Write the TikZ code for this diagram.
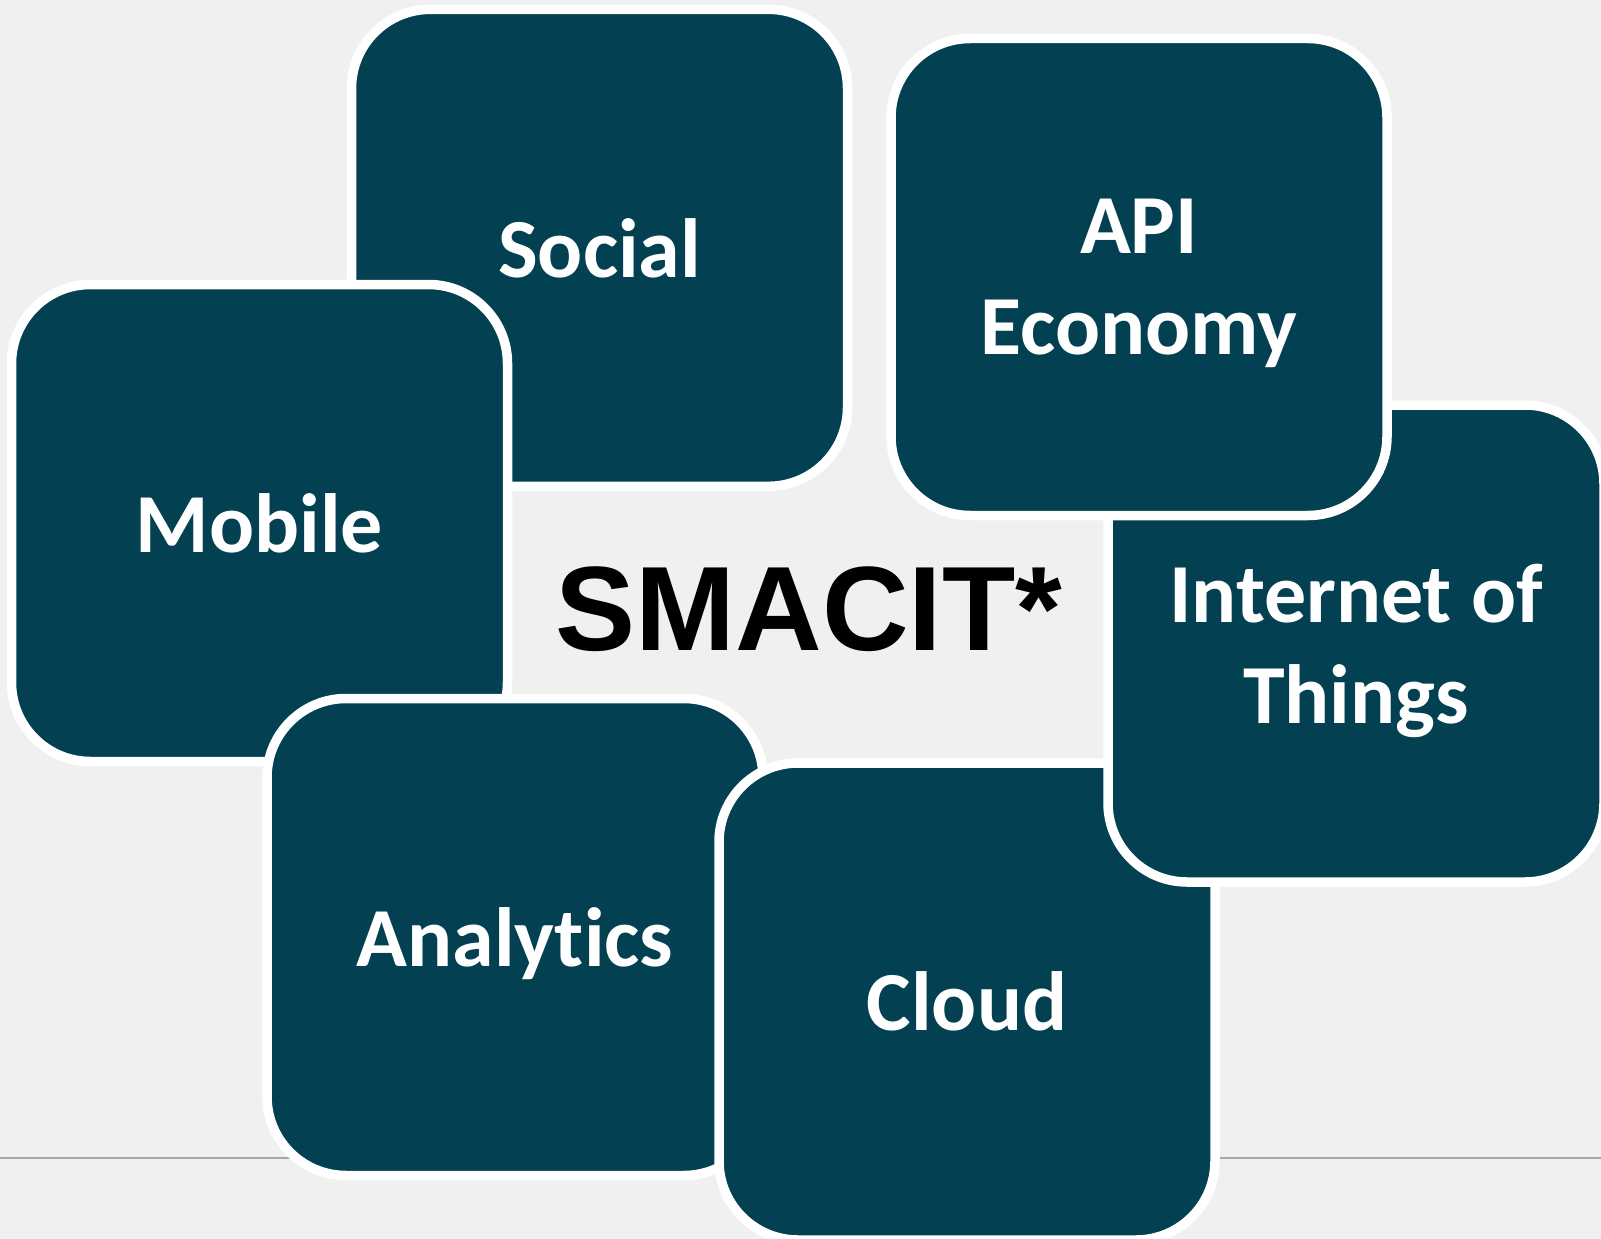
\documentclass[tikz,border=0pt]{standalone}
\usepackage{fontspec}
\usepackage{xcolor}
\usetikzlibrary{positioning}
\newfontfamily\tilefont{Carlito}[Ligatures=NoCommon]
\newfontfamily\headfont{Liberation Sans}
\definecolor{tealbox}{RGB}{2,64,82}
\definecolor{paper}{RGB}{240,240,240}
\definecolor{rulegray}{RGB}{166,166,166}

\begin{document}
\begin{tikzpicture}[
  x=1pt, y=-1pt,
  tile/.style={draw=white, fill=tealbox, line width=9.5pt, rounded corners=79pt, minimum width=496pt, minimum height=477pt, inner sep=0pt, text depth=-6pt, align=center, text=white, font=\tilefont\bfseries\fontsize{84}{101}\selectfont},
  headline/.style={font=\headfont\bfseries\fontsize{120}{144}\selectfont, inner sep=0pt, text=black}
]
\useasboundingbox (0,0) rectangle (1601,1239);
\clip (0,0) rectangle (1601,1239);
\fill[paper] (0,0) rectangle (1601,1239);

% Thin rule behind the tiles
\coordinate (rulel) at (0,1158);
\coordinate (ruler) at (1601,1158);
\draw[rulegray, line width=1.5pt] (rulel) -- (ruler);

% Tiles, back to front
\node[tile] (social) at (599.5,247.8) {Social};
\node[tile] (mobile) at (259.5,523) {Mobile};
\node[tile] (analytics) at (515,937) {Analytics};
\node[tile] (cloud) at (967,1001.5) {Cloud};
\node[tile] (iot) at (1356,643.5) {Internet of\\Things};
\node[tile] (api) at (1139,277) {API\\Economy};

% Title in the gap
\node[headline, anchor=base] (smacit) at (809,650) {SMACIT*};

\end{tikzpicture}
\end{document}
